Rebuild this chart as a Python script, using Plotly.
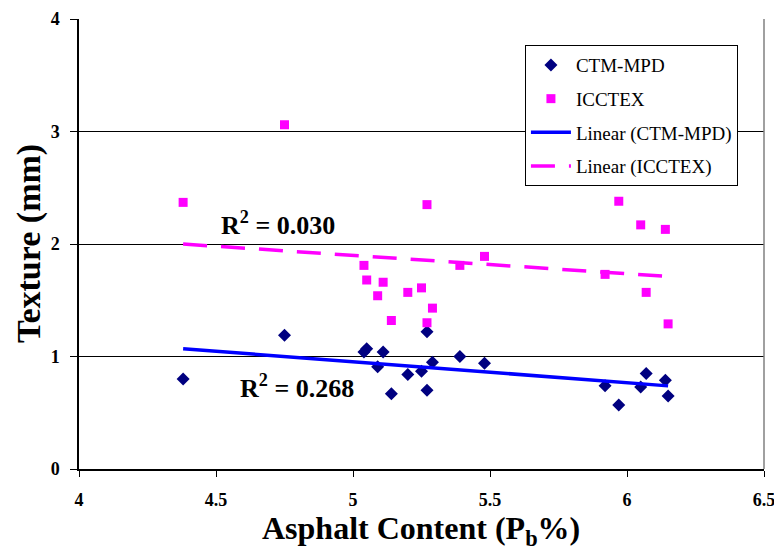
import numpy as np
import plotly.graph_objects as go

# Data
asphalt = [4.38, 4.75, 5.04, 5.05, 5.09, 5.11, 5.14, 5.20, 5.25, 5.27, 5.27, 5.29,
           5.39, 5.48, 5.92, 5.97, 6.05, 6.07, 6.14, 6.15]
ctm_mpd = [0.80, 1.19, 1.04, 1.07, 0.91, 1.04, 0.67, 0.84, 0.87, 1.22, 0.70, 0.95,
           1.00, 0.94, 0.74, 0.57, 0.73, 0.85, 0.79, 0.65]
icctex_x = [4.38, 4.75, 5.04, 5.05, 5.09, 5.11, 5.14, 5.20, 5.25, 5.27, 5.27, 5.29,
            5.39, 5.48, 5.92, 5.97, 6.05, 6.07, 6.14, 6.15]
icctex = [2.37, 3.06, 1.81, 1.68, 1.54, 1.66, 1.32, 1.57, 1.61, 2.35, 1.30, 1.43,
          1.81, 1.89, 1.73, 2.38, 2.17, 1.57, 2.13, 1.29]
x_ticks = [4, 4.5, 5, 5.5, 6, 6.5]
y_ticks = [0, 1, 2, 3, 4]
r2_ctm_label = "R<sup>2</sup> = 0.268"
r2_icc_label = "R<sup>2</sup> = 0.030"

FONT = "Liberation Serif, Times New Roman, serif"

def linfit(x, y):
    x = np.asarray(x, float)
    y = np.asarray(y, float)
    m, b = np.polyfit(x, y, 1)
    xs = np.array([x.min(), x.max()])
    return xs, m * xs + b

fx1, fy1 = linfit(asphalt, ctm_mpd)
fx2, fy2 = linfit(icctex_x, icctex)

fig = go.Figure()
fig.add_trace(go.Scatter(x=asphalt, y=ctm_mpd, mode="markers", name="CTM-MPD",
                         legendgroup="a",
                         marker=dict(symbol="diamond", size=10, color="#000080")))
fig.add_trace(go.Scatter(x=icctex_x, y=icctex, mode="markers", name="ICCTEX",
                         legendgroup="b",
                         marker=dict(symbol="square", size=9, color="#FF00FF")))
fig.add_trace(go.Scatter(x=fx1, y=fy1, mode="lines", name="Linear (CTM-MPD)",
                         legendgroup="c",
                         line=dict(color="#0000FF", width=3.5)))
fig.add_trace(go.Scatter(x=fx2, y=fy2, mode="lines", name="Linear (ICCTEX)",
                         legendgroup="d",
                         line=dict(color="#FF00FF", width=3.5, dash="24px,14px")))

fig.add_annotation(x=4.726, y=2.18, xref="x", yref="y", text="<b>" + r2_icc_label + "</b>",
                   showarrow=False, font=dict(family=FONT, size=26, color="black"),
                   xanchor="center", yanchor="middle")
fig.add_annotation(x=4.796, y=0.73, xref="x", yref="y", text="<b>" + r2_ctm_label + "</b>",
                   showarrow=False, font=dict(family=FONT, size=26, color="black"),
                   xanchor="center", yanchor="middle")

# axis titles
fig.add_annotation(x=0.499, y=-0.137, xref="paper", yref="paper",
                   text="<b>Asphalt Content (P<sub>b</sub>%)</b>", showarrow=False,
                   font=dict(family=FONT, size=32, color="black"),
                   xanchor="center", yanchor="middle")
fig.add_annotation(x=-0.073, y=0.502, xref="paper", yref="paper",
                   text="<b>Texture (mm)</b>", showarrow=False, textangle=-90,
                   font=dict(family=FONT, size=34, color="black"),
                   xanchor="center", yanchor="middle")

# right border of the plot area
fig.add_shape(type="line", xref="paper", yref="paper", x0=1, x1=1, y0=0, y1=1,
              line=dict(color="#808080", width=1.5))

# page body has an 8px default margin, so the figure is sized to fit the window
fig.update_layout(
    width=774, height=542,
    margin=dict(l=71, r=18, t=11, b=81),
    paper_bgcolor="white", plot_bgcolor="white",
    font=dict(family=FONT, color="black"),
    showlegend=True,
    legend=dict(x=0.651, y=0.942, xanchor="left", yanchor="top",
                bgcolor="white", bordercolor="black", borderwidth=1,
                font=dict(family=FONT, size=19, color="black"),
                tracegroupgap=6, itemwidth=40),
    xaxis=dict(range=[4, 6.5], tickvals=x_ticks,
               ticktext=[f"<b>{v:g}</b>" for v in x_ticks],
               automargin=False,
               showgrid=False, zeroline=False, showline=True, linecolor="black",
               linewidth=1.5, ticks="outside", ticklen=6, tickcolor="black",
               tickfont=dict(family=FONT, size=18, color="black"),
               ticklabelstandoff=8),
    yaxis=dict(range=[0, 4], tickvals=y_ticks,
               ticktext=[f"<b>{v}</b>" for v in y_ticks],
               automargin=False,
               showgrid=True, gridcolor="black", gridwidth=1,
               zeroline=False, showline=True, linecolor="black",
               linewidth=1.5, ticks="outside", ticklen=7, tickcolor="black",
               tickfont=dict(family=FONT, size=18, color="black"),
               ticklabelstandoff=7),
)

fig.write_html("out.html")
